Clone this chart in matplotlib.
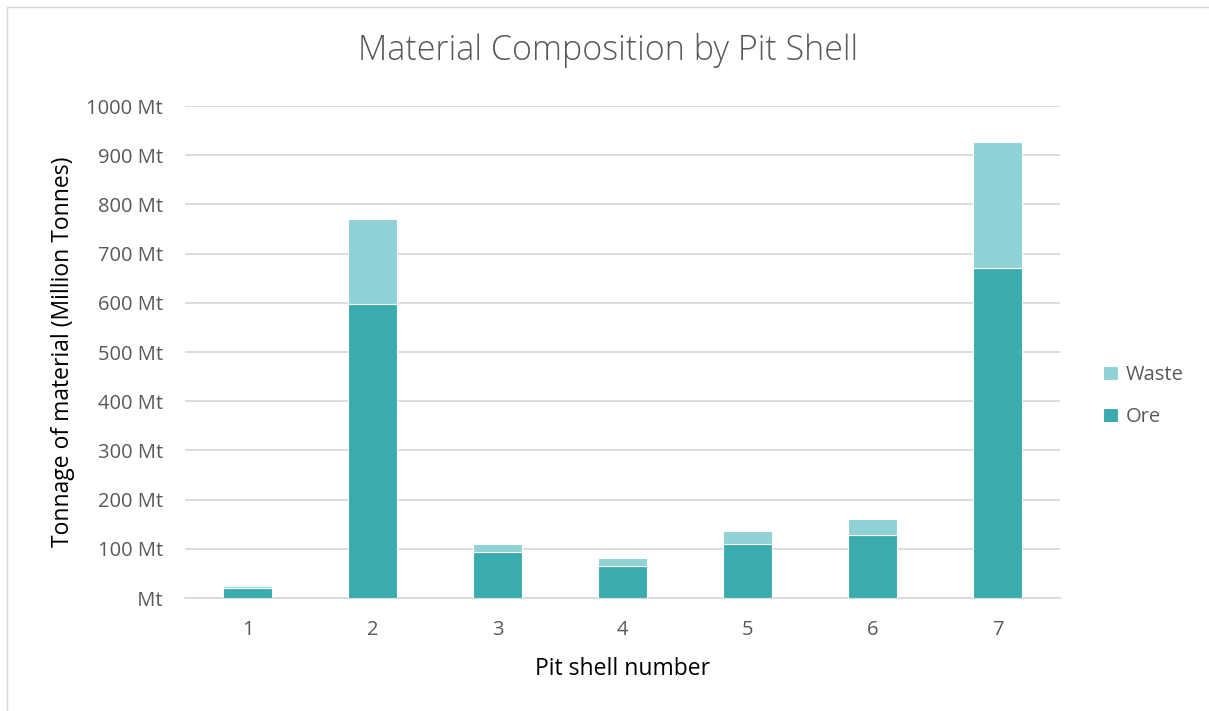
import matplotlib
matplotlib.use("Agg")
import matplotlib.pyplot as plt
from matplotlib.patches import Rectangle

categories = ["1", "2", "3", "4", "5", "6", "7"]
ore = [21, 598, 94, 65, 110, 128, 671]
waste = [3, 172, 16, 16, 26, 32, 256]
yticks = [0, 100, 200, 300, 400, 500, 600, 700, 800, 900, 1000]
ytick_labels = [" Mt" if v == 0 else f"{v} Mt" for v in yticks]

ORE_C = "#3AABAF"
WASTE_C = "#8FD1D5"
TXT = "#595959"
plt.rcParams['font.family'] = ['Open Sans', 'DejaVu Sans']

fig = plt.figure(figsize=(12.09, 7.11), dpi=100)
ax = fig.add_axes([185/1209, 1-598/711, 875/1209, 492/711])

x = list(range(len(categories)))
ax.bar(x, ore, width=0.39, color=ORE_C, edgecolor="white", linewidth=0.8, label="Ore", zorder=3)
ax.bar(x, waste, bottom=ore, width=0.39, color=WASTE_C, edgecolor="white", linewidth=0.8, label="Waste", zorder=3)

ax.set_xlim(-0.5, len(categories) - 0.5)
ax.set_ylim(0, 1000)
ax.set_yticks(yticks)
ax.set_yticklabels(ytick_labels)
ax.set_xticks(x)
ax.set_xticklabels(categories)
ax.grid(axis="y", color="#d9d9d9", linewidth=1.3, zorder=0)
for s in ["top", "right", "left"]:
    ax.spines[s].set_visible(False)
ax.spines["bottom"].set_color("#d9d9d9")
ax.spines["bottom"].set_linewidth(1.3)
ax.tick_params(axis="both", length=0, labelsize=14.5, colors=TXT)
ax.tick_params(axis="y", pad=16)
ax.tick_params(axis="x", pad=16)

ax.set_ylabel("Tonnage of material (Million Tonnes)", fontsize=16.5, color="black", labelpad=8)
ax.set_xlabel("Pit shell number", fontsize=16.5, color="black", labelpad=12)
fig.text(608/1209, 1 - 50/711, "Material Composition by Pit Shell",
         ha="center", va="center", fontsize=24.5, color=TXT, fontweight="light")

handles, labels = ax.get_legend_handles_labels()
leg = fig.legend(handles[::-1], labels[::-1], loc="center left", bbox_to_anchor=(1085/1209, 1-396/711),
                 frameon=False, fontsize=14.5, labelcolor=TXT, handlelength=0.75, handleheight=0.75,
                 handletextpad=0.35, labelspacing=1.1)

fig.patches.append(Rectangle((7/1209, -0.1), 1.2, 1 - 7/711 + 0.1, transform=fig.transFigure,
                             fill=False, edgecolor="#d9d9d9", linewidth=1))

fig.savefig("out.png", dpi=100)
